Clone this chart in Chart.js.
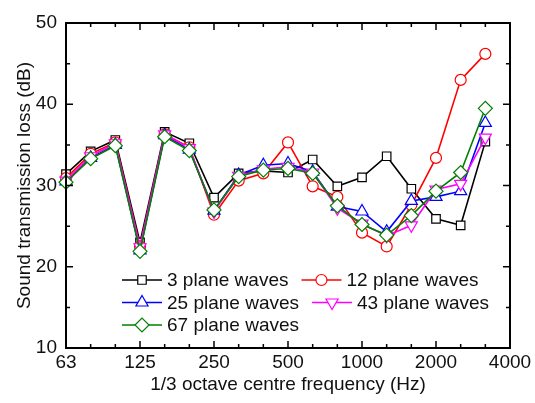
<!DOCTYPE html>
<html>
<head>
<meta charset="utf-8">
<script src="https://cdn.jsdelivr.net/npm/chart.js@4.4.0/dist/chart.umd.min.js"></script>
<style>
  html, body { margin: 0; padding: 0; background: white; }
  #wrap { width: 535px; height: 403px; }
</style>
</head>
<body>
<div id="wrap"><canvas id="myChart"></canvas></div>
<script>
// 1/3 octave bands (last one only used for the axis end)
const frecuencias = ['63','80','100','125','160','200','250','315','400','500','630','800','1000','1250','1600','2000','2500','3150','4000'];
const etiquetasX = ['63','125','250','500','1000','2000','4000'];

const ondas3  = [31.4, 34.2, 35.6, 23.0, 36.6, 35.2, 28.5, 31.5, 31.8, 31.6, 33.2, 29.9, 31.0, 33.6, 29.6, 25.9, 25.1, 35.4];
const ondas12 = [30.9, 33.9, 35.3, 22.5, 36.3, 34.7, 26.4, 30.6, 31.5, 35.3, 29.9, 28.6, 24.2, 22.5, 27.6, 33.4, 43.0, 46.2];
const ondas25 = [30.5, 33.4, 35.0, 22.0, 36.2, 34.4, 26.9, 31.3, 32.5, 32.7, 31.7, 27.4, 26.8, 24.3, 28.1, 28.6, 29.3, 37.7];
const ondas43 = [30.6, 33.6, 35.2, 22.4, 36.3, 34.6, 26.8, 31.2, 32.0, 32.3, 31.6, 27.2, 25.3, 23.8, 25.1, 29.5, 30.2, 35.9];
const ondas67 = [30.4, 33.3, 34.9, 21.9, 36.0, 34.3, 27.0, 31.1, 31.9, 32.1, 31.5, 27.5, 25.2, 23.9, 26.3, 29.3, 31.6, 39.5];

const fuente = "'Liberation Sans', Arial, sans-serif";

function serie(label, data, color, estilo, radio, rotacion, orden) {
    return {
        label, data,
        borderColor: color,
        backgroundColor: color,
        borderWidth: 1.6,
        pointStyle: estilo,
        pointRadius: radio,
        pointRotation: rotacion,
        pointBorderWidth: 1.2,
        pointBorderColor: color,
        pointBackgroundColor: 'white',
        tension: 0,
        order: orden
    };
}

const datasets = [
    serie('3 plane waves', ondas3, '#000000', 'rect', 6, 0, 5),
    serie('12 plane waves', ondas12, '#ff0000', 'circle', 5.5, 0, 4),
    serie('25 plane waves', ondas25, '#0000ff', 'triangle', 7, 0, 3),
    serie('43 plane waves', ondas43, '#ff00ff', 'triangle', 7, 180, 2),
    serie('67 plane waves', ondas67, '#008000', 'rectRot', 7, 0, 1)
];

// frame, inward ticks and the legend inside the plot
const marco = {
    id: 'marco',
    afterDatasetsDraw(chart) {
        const ctx = chart.ctx;
        const a = chart.chartArea;
        const x = chart.scales.x, y = chart.scales.y;
        ctx.save();
        ctx.strokeStyle = '#000';
        ctx.lineWidth = 2;
        ctx.strokeRect(a.left, a.top, a.right - a.left, a.bottom - a.top);
        ctx.lineWidth = 1.5;
        ctx.beginPath();
        frecuencias.forEach((f, i) => {
            const px = x.getPixelForValue(i);
            const l = etiquetasX.includes(f) ? 7 : 4;
            ctx.moveTo(px, a.bottom); ctx.lineTo(px, a.bottom - l);
            ctx.moveTo(px, a.top); ctx.lineTo(px, a.top + l);
        });
        for (let v = 10; v <= 50; v += 5) {
            const py = y.getPixelForValue(v);
            const l = v % 10 === 0 ? 7 : 4;
            ctx.moveTo(a.left, py); ctx.lineTo(a.left + l, py);
            ctx.moveTo(a.right, py); ctx.lineTo(a.right - l, py);
        }
        ctx.stroke();

        // legend
        ctx.font = '19px ' + fuente;
        ctx.textBaseline = 'middle';
        const filas = [[0, 1], [2, 3], [4]];
        let yy = 280;
        filas.forEach(fila => {
            let xx = 122;
            fila.forEach(k => {
                const ds = datasets[k];
                ctx.strokeStyle = ds.borderColor;
                ctx.lineWidth = ds.borderWidth;
                ctx.beginPath();
                ctx.moveTo(xx, yy); ctx.lineTo(xx + 40, yy);
                ctx.stroke();
                ctx.fillStyle = 'white';
                ctx.lineWidth = ds.pointBorderWidth;
                Chart.helpers.drawPoint(ctx, {
                    pointStyle: ds.pointStyle, radius: ds.pointRadius,
                    rotation: ds.pointRotation, borderWidth: ds.pointBorderWidth
                }, xx + 20, yy);
                ctx.fillStyle = '#111';
                ctx.fillText(ds.label, xx + 45, yy + 1);
                xx = xx + 45 + ctx.measureText(ds.label).width + 13;
            });
            yy += 22.5;
        });
        ctx.restore();
    }
};

const config = {
    type: 'line',
    data: { labels: frecuencias, datasets },
    options: {
        responsive: true,
        maintainAspectRatio: false,
        animation: false,
        layout: { padding: { top: 23, right: 25, left: 0, bottom: 0 } },
        plugins: { legend: { display: false }, tooltip: { enabled: false } },
        scales: {
            x: {
                type: 'category',
                offset: false,
                grid: { display: false, drawTicks: false },
                border: { display: false },
                ticks: {
                    autoSkip: false, maxRotation: 0, padding: 3,
                    color: '#111', font: { family: fuente, size: 19 },
                    callback: function(val, i) {
                        const f = frecuencias[i];
                        return etiquetasX.includes(f) ? f : '';
                    }
                },
                title: {
                    display: true, text: '1/3 octave centre frequency (Hz)',
                    color: '#111', font: { family: fuente, size: 19 }, padding: { top: 0, bottom: 7 }
                },
                afterFit: function(scale) { scale.height = 55; }
            },
            y: {
                min: 10, max: 50,
                grid: { display: false, drawTicks: false },
                border: { display: false },
                ticks: {
                    stepSize: 5, padding: 9,
                    color: '#111', font: { family: fuente, size: 19 },
                    callback: function(v) { return v % 10 === 0 ? v : ''; }
                },
                title: {
                    display: true, text: 'Sound transmission loss (dB)',
                    color: '#111', font: { family: fuente, size: 19 }, padding: { top: 13, bottom: 0 }
                },
                afterFit: function(scale) { scale.width = 66; }
            }
        }
    },
    plugins: [marco]
};

new Chart(document.getElementById('myChart'), config);
</script>
</body>
</html>
